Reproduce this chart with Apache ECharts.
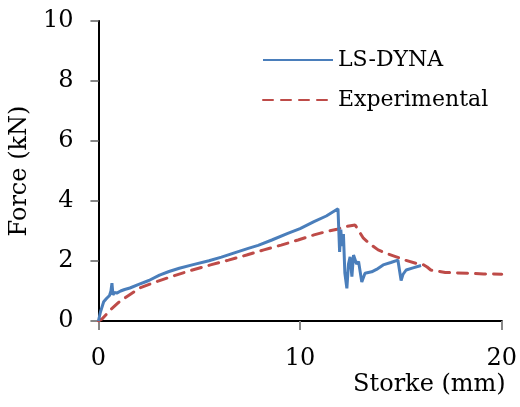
<!DOCTYPE html>
<html><head><meta charset="utf-8">
<script src="https://cdn.jsdelivr.net/npm/echarts@6/dist/echarts.min.js"></script>
<style>html,body{margin:0;padding:0;background:#fff}#c{width:520px;height:407px}</style>
</head><body><div id="c"></div>
<script>
const seriesNames = ['LS-DYNA', 'Experimental'];
const xTicks = [0, 10, 20];
const yTicks = [0, 2, 4, 6, 8, 10];
const lsDyna = [
[0,0],[0.1,0.3],[0.26,0.64],[0.4,0.75],[0.55,0.85],[0.62,1.0],[0.67,1.26],[0.72,0.87],[0.8,0.95],[0.91,0.93],
[1.1,1.0],[1.3,1.05],[1.56,1.1],[2.0,1.22],[2.5,1.35],[3.03,1.53],[3.5,1.65],[4.01,1.76],[4.7,1.88],[5.48,2.01],
[6.1,2.13],[6.78,2.28],[7.43,2.42],[7.92,2.52],[8.6,2.7],[9.39,2.92],[10.0,3.08],[10.69,3.31],[11.3,3.5],[11.88,3.74],
[11.96,2.3],[12.02,3.05],[12.08,2.5],[12.15,2.9],[12.22,1.6],[12.32,1.09],[12.4,1.9],[12.48,2.14],[12.57,1.48],[12.65,2.2],
[12.73,2.2],[12.8,1.9],[12.9,1.98],[13.06,1.3],[13.22,1.59],[13.55,1.64],[13.79,1.72],[14.12,1.87],[14.5,1.95],[14.85,2.03],
[15.01,1.35],[15.1,1.55],[15.26,1.7],[15.6,1.77],[16.0,1.85]
];
const experimental = [
[0,0],[0.2,0.08],[0.59,0.37],[1.0,0.62],[1.4,0.81],[2.05,1.1],[2.7,1.27],[3.36,1.42],[3.85,1.53],[4.66,1.7],
[5.56,1.87],[6.45,2.03],[7.35,2.2],[8.2,2.37],[9.06,2.53],[9.9,2.7],[10.69,2.87],[11.3,2.98],[11.83,3.06],[12.3,3.15],
[12.73,3.2],[13.14,2.76],[13.5,2.55],[13.87,2.37],[14.3,2.25],[14.77,2.14],[15.25,2.02],[15.75,1.92],[16.1,1.88],[16.3,1.8],
[16.48,1.7],[17.2,1.62],[18.35,1.59],[19.1,1.57],[20,1.56]
];
const FONT = 'DejaVu Serif';
const gray = '#878787';
const chart = echarts.init(document.getElementById('c'), null, {renderer:'canvas'});
chart.setOption({
  animation: false,
  grid: {left: 98, right: 13, top: 21, bottom: 86, containLabel: false},
  legend: {
    orient: 'vertical', left: 262, top: 49, padding: 0, itemWidth: 70, itemHeight: 14, itemGap: 18,
    itemStyle: {opacity: 0, color: 'transparent', borderWidth: 0},
    textStyle: {fontFamily: FONT, fontSize: 22, color: '#000', lineHeight: 22},
    data: seriesNames
  },
  xAxis: [{
    type: 'value', min: xTicks[0], max: xTicks[xTicks.length-1], interval: 10,
    axisLine: {lineStyle: {color: gray, width: 2}},
    axisTick: {show: true, inside: false, length: 9, lineStyle: {color: gray, width: 2}},
    axisLabel: {fontFamily: FONT, fontSize: 24, color: '#000', margin: 26},
    splitLine: {show: false},
    name: 'Storke (mm)', nameLocation: 'end', nameGap: 4,
    nameTextStyle: {fontFamily: FONT, fontSize: 24, color: '#000', align: 'right', verticalAlign: 'top', padding: [52,0,0,0]}
  }, {
    type: 'value', position: 'top', min: 0, max: 20,
    axisLine: {show: true, lineStyle: {color: '#000', width: 2}},
    axisTick: {show: false}, axisLabel: {show: false}, splitLine: {show: false}
  }],
  yAxis: [{
    type: 'value', min: yTicks[0], max: yTicks[yTicks.length-1], interval: 2,
    axisLine: {show: true, lineStyle: {color: gray, width: 2}},
    axisTick: {show: true, inside: false, length: 8, lineStyle: {color: gray, width: 2}},
    axisLabel: {fontFamily: FONT, fontSize: 24, color: '#000', margin: 25},
    splitLine: {show: false},
    name: 'Force (kN)', nameLocation: 'middle', nameGap: 62, nameRotate: 90,
    nameTextStyle: {fontFamily: FONT, fontSize: 24, color: '#000'}
  }, {
    type: 'value', position: 'right', min: 0, max: 10,
    axisLine: {show: true, lineStyle: {color: '#000', width: 2}},
    axisTick: {show: false}, axisLabel: {show: false}, splitLine: {show: false}
  }],
  series: [{
    name: seriesNames[1], type: 'line', data: experimental, symbol: 'none', smooth: false,
    lineStyle: {color: '#be4b48', width: 3, type: [10, 8], cap: 'round'},
    itemStyle: {color: '#be4b48'}
  }, {
    name: seriesNames[0], type: 'line', data: lsDyna, symbol: 'none',
    lineStyle: {color: '#4a7ebb', width: 3},
    itemStyle: {color: '#4a7ebb'}
  }]
});
</script></body></html>
